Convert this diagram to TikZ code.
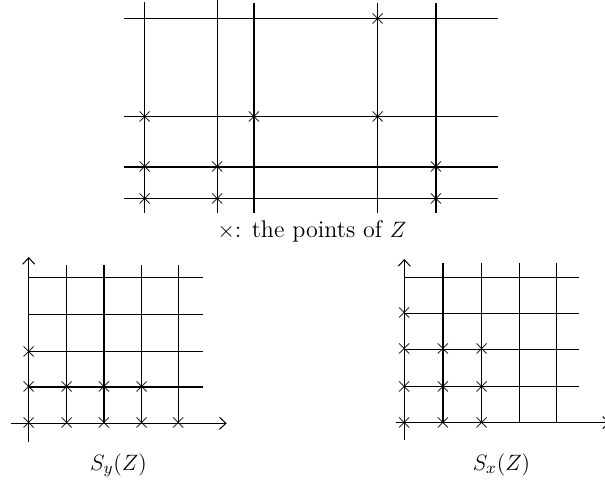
\documentclass[tikz,border=0pt]{standalone}
\usepackage{amsmath}
\usepackage{tikz}
\usetikzlibrary{arrows,arrows.meta,calc,positioning}

\tikzset{zpt/.style={inner sep=0pt, outer sep=0pt},
  axis/.style={-{Straight Barb[length=3.5pt,width=6.5pt]}}}

\begin{document}
\begin{tikzpicture}[x=0.019cm, y=-0.019cm, line width=0.55pt,
  every node/.style={font=\fontsize{13}{15}\selectfont}]
\useasboundingbox (0,0) rectangle (605,482);
%
% the points of Z
\foreach \y in {18.7,116.7,167,198.5}
  \draw (124,\y) -- (498,\y);
\foreach \x/\t in {144.7/2,217.3/0,254/3,377.7/3,436/3}
  \draw (\x,\t) -- (\x,213.5);
\foreach \x/\y [count=\i] in {377.7/18.7,144.7/116.7,254/116.7,377.7/116.7,144.7/167,217.3/167,436/167,144.7/198.5,217.3/198.5,436/198.5}
  \node[zpt] (z\i) at (\x,\y) {$\times$};
\node (Zlbl) at (312,231) {$\times$: the points of $Z$};
%
% S_y(Z)
\coordinate (Oy) at (28.7,423.3);
\draw[axis] (28.7,442) -- (28.7,257);
\draw[axis] (10.7,423.3) -- (226.7,423.3);
\foreach \x in {66.7,104,141.7,178.3}
  \draw (\x,265) -- (\x,423.3);
\foreach \y in {277.3,314.3,351.7,387}
  \draw (28.7,\y) -- (203.3,\y);
\foreach \x/\y [count=\i] in {28.7/351.7,28.7/387,66.7/387,104/387,141.7/387,28.7/423.3,66.7/423.3,104/423.3,141.7/423.3,178.3/423.3}
  \node[zpt] (sy\i) at (\x,\y) {$\times$};
\node (Sylbl) at (118.5,465) {$S_y(Z)$};
%
% S_x(Z)
\coordinate (Ox) at (404.3,422.7);
\draw[axis] (404.3,440) -- (404.3,259);
\draw[axis] (396,422.7) -- (610,422.7);
\foreach \x in {443,481.7,519.3,556.7}
  \draw (\x,263) -- (\x,422.7);
\foreach \y in {277.3,313.3,349.3,386.7}
  \draw (404.3,\y) -- (579.3,\y);
\foreach \x/\y [count=\i] in {404.3/313.3,404.3/349.3,443/349.3,481.7/349.3,404.3/386.7,443/386.7,481.7/386.7,404.3/422.7,443/422.7,481.7/422.7}
  \node[zpt] (sx\i) at (\x,\y) {$\times$};
\node (Sxlbl) at (501.5,465) {$S_x(Z)$};
%
\end{tikzpicture}
\end{document}
